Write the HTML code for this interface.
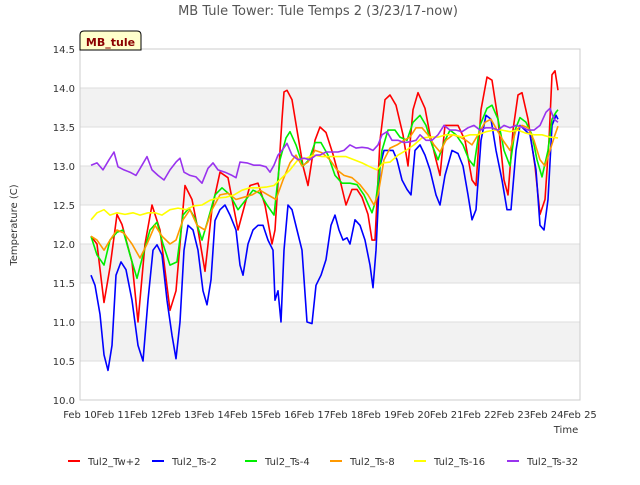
<!DOCTYPE html>
<html><head><meta charset="utf-8"><style>
body{margin:0;background:#fff;font-family:"Liberation Sans","DejaVu Sans",sans-serif}
svg text{font-family:"DejaVu Sans","Liberation Sans",sans-serif}
</style></head><body>
<svg id="chart" width="640" height="480" xmlns="http://www.w3.org/2000/svg">
<rect width="640" height="480" fill="#fff"/>
<text x="318" y="15" font-size="13" fill="#555" text-anchor="middle">MB Tule Tower: Tule Temps 2 (3/23/17-now)</text>
<g id="bands"></g><g id="grid"></g>
<rect x="80" y="49" width="500" height="351" fill="none" stroke="#ccc"/>
<g id="series"></g><g id="ticks"></g>
<text transform="translate(17,225) rotate(-90)" font-size="10" fill="#333" text-anchor="middle">Temperature (C)</text>
<text x="566" y="433" font-size="10" fill="#333" text-anchor="middle">Time</text>
<g>
<path d="M80,50 L80,35 Q80,31 84,31 L137,31 Q141,31 141,35 L141,50 Z" fill="#ffffcc" stroke="#000"/>
<text x="110.5" y="46" font-size="11" font-weight="bold" fill="#8b0000" text-anchor="middle">MB_tule</text></g>
<g id="legend"></g>
</svg>
<script>
const seriesNames=["Tul2_Tw+2","Tul2_Ts-2","Tul2_Ts-4","Tul2_Ts-8","Tul2_Ts-16","Tul2_Ts-32"];
const seriesColors=["#ff0000","#0000ff","#00ee00","#ff9900","#ffff00","#9933ee"];
const xTickLabels=["Feb 10","Feb 11","Feb 12","Feb 13","Feb 14","Feb 15","Feb 16","Feb 17","Feb 18","Feb 19","Feb 20","Feb 21","Feb 22","Feb 23","Feb 24","Feb 25"];
const yTicks=[10.0,10.5,11.0,11.5,12.0,12.5,13.0,13.5,14.0,14.5];
// [days since Feb 10, temperature C]
const tw2=[[.33,12.1],[.51,12.0],[.72,11.25],[.9,11.7],[1.11,12.38],[1.26,12.25],[1.56,11.77],[1.74,11.0],[1.95,12.0],[2.16,12.5],[2.4,12.18],[2.7,11.15],[2.88,11.4],[3.15,12.75],[3.36,12.57],[3.54,12.18],[3.75,11.65],[3.96,12.45],[4.2,12.92],[4.44,12.85],[4.74,12.18],[5.1,12.75],[5.34,12.78],[5.55,12.5],[5.76,12.0],[5.85,12.18],[6.06,13.6],[6.12,13.95],[6.21,13.97],[6.36,13.85],[6.51,13.46],[6.69,13.0],[6.84,12.75],[7.05,13.33],[7.2,13.5],[7.38,13.43],[7.59,13.15],[7.8,12.82],[7.98,12.5],[8.16,12.7],[8.31,12.7],[8.46,12.6],[8.64,12.38],[8.76,12.05],[8.85,12.05],[9.0,13.33],[9.15,13.85],[9.3,13.91],[9.48,13.78],[9.69,13.4],[9.84,13.0],[9.99,13.72],[10.14,13.94],[10.35,13.74],[10.5,13.4],[10.68,13.08],[10.8,12.88],[10.95,13.52],[11.16,13.52],[11.34,13.52],[11.55,13.33],[11.76,12.82],[11.88,12.75],[12.03,13.72],[12.21,14.14],[12.36,14.1],[12.54,13.6],[12.72,12.82],[12.84,12.63],[12.99,13.46],[13.14,13.91],[13.26,13.94],[13.44,13.6],[13.65,13.0],[13.8,12.38],[13.95,12.57],[14.07,13.33],[14.16,14.17],[14.25,14.22],[14.34,13.97]];
const ts2=[[.33,11.6],[.45,11.47],[.6,11.1],[.72,10.58],[.84,10.38],[.96,10.7],[1.08,11.6],[1.23,11.77],[1.38,11.67],[1.56,11.28],[1.74,10.7],[1.89,10.5],[2.04,11.28],[2.19,11.92],[2.31,11.99],[2.46,11.86],[2.61,11.28],[2.76,10.83],[2.88,10.53],[3.0,11.0],[3.12,11.92],[3.24,12.24],[3.39,12.18],[3.54,11.92],[3.69,11.4],[3.81,11.22],[3.93,11.54],[4.05,12.3],[4.2,12.44],[4.35,12.5],[4.5,12.37],[4.68,12.18],[4.8,11.73],[4.89,11.6],[5.04,12.0],[5.19,12.18],[5.34,12.24],[5.49,12.24],[5.64,12.05],[5.79,11.92],[5.85,11.28],[5.94,11.4],[6.03,11.0],[6.12,11.92],[6.24,12.5],[6.36,12.44],[6.51,12.18],[6.66,11.92],[6.81,11.0],[6.96,10.98],[7.08,11.47],[7.23,11.6],[7.38,11.8],[7.53,12.24],[7.65,12.37],[7.77,12.18],[7.89,12.05],[8.01,12.08],[8.1,12.0],[8.25,12.31],[8.4,12.24],[8.55,12.05],[8.7,11.73],[8.79,11.44],[8.88,11.92],[9.0,13.0],[9.12,13.2],[9.24,13.2],[9.39,13.2],[9.51,13.08],[9.66,12.82],[9.81,12.7],[9.93,12.63],[10.05,13.2],[10.2,13.27],[10.35,13.14],[10.5,12.95],[10.68,12.63],[10.8,12.5],[10.95,12.88],[11.16,13.2],[11.34,13.16],[11.49,13.0],[11.64,12.63],[11.76,12.31],[11.88,12.44],[12.03,13.33],[12.18,13.65],[12.33,13.6],[12.48,13.2],[12.66,12.82],[12.81,12.44],[12.93,12.44],[13.08,13.2],[13.2,13.52],[13.35,13.46],[13.5,13.4],[13.68,12.95],[13.8,12.24],[13.92,12.18],[14.04,12.57],[14.16,13.52],[14.28,13.65],[14.34,13.6]];
const ts4=[[.33,12.1],[.51,11.86],[.72,11.73],[.9,12.05],[1.11,12.15],[1.29,12.18],[1.5,11.86],[1.71,11.56],[1.89,11.86],[2.1,12.18],[2.31,12.28],[2.49,12.0],[2.7,11.73],[2.91,11.77],[3.09,12.37],[3.27,12.46],[3.45,12.33],[3.66,12.05],[3.84,12.31],[4.05,12.63],[4.26,12.72],[4.5,12.63],[4.74,12.44],[4.98,12.57],[5.19,12.69],[5.4,12.65],[5.61,12.5],[5.82,12.37],[6.0,13.08],[6.18,13.36],[6.3,13.44],[6.48,13.27],[6.69,13.0],[6.87,13.08],[7.05,13.3],[7.23,13.3],[7.44,13.14],[7.65,12.88],[7.86,12.78],[8.1,12.78],[8.31,12.76],[8.52,12.63],[8.76,12.4],[8.88,12.57],[9.06,13.2],[9.24,13.46],[9.45,13.46],[9.6,13.37],[9.81,13.33],[9.99,13.56],[10.2,13.65],[10.38,13.52],[10.56,13.27],[10.74,13.08],[10.92,13.3],[11.1,13.46],[11.28,13.4],[11.49,13.27],[11.67,13.08],[11.82,13.0],[12.0,13.52],[12.21,13.74],[12.36,13.78],[12.54,13.6],[12.72,13.2],[12.9,13.0],[13.05,13.46],[13.2,13.62],[13.38,13.56],[13.56,13.4],[13.71,13.08],[13.86,12.86],[14.04,13.2],[14.16,13.6],[14.28,13.69],[14.34,13.72]];
const ts8=[[.33,12.1],[.51,12.05],[.72,11.92],[.9,12.05],[1.11,12.18],[1.32,12.14],[1.56,12.0],[1.8,11.82],[2.01,12.0],[2.25,12.24],[2.46,12.1],[2.7,12.0],[2.88,12.05],[3.09,12.31],[3.3,12.44],[3.51,12.24],[3.75,12.18],[3.96,12.44],[4.2,12.63],[4.44,12.65],[4.68,12.57],[4.92,12.6],[5.16,12.63],[5.4,12.69],[5.64,12.63],[5.88,12.57],[6.09,12.82],[6.3,13.04],[6.48,13.14],[6.66,13.0],[6.84,13.05],[7.05,13.2],[7.26,13.17],[7.5,13.08],[7.71,12.95],[7.92,12.88],[8.16,12.85],[8.4,12.76],[8.64,12.63],[8.82,12.5],[8.94,12.63],[9.12,13.08],[9.3,13.23],[9.51,13.27],[9.72,13.33],[9.9,13.37],[10.08,13.49],[10.26,13.49],[10.44,13.4],[10.62,13.27],[10.8,13.18],[10.98,13.33],[11.19,13.4],[11.4,13.37],[11.58,13.33],[11.76,13.27],[11.94,13.4],[12.15,13.56],[12.33,13.6],[12.51,13.46],[12.69,13.33],[12.9,13.2],[13.08,13.46],[13.26,13.52],[13.44,13.49],[13.62,13.33],[13.8,13.08],[13.95,13.0],[14.1,13.2],[14.25,13.4],[14.34,13.51]];
const ts16=[[.33,12.31],[.51,12.4],[.72,12.44],[.9,12.37],[1.11,12.4],[1.35,12.38],[1.59,12.4],[1.8,12.37],[2.04,12.4],[2.25,12.4],[2.46,12.37],[2.7,12.44],[2.94,12.46],[3.18,12.44],[3.42,12.49],[3.66,12.5],[3.9,12.56],[4.14,12.59],[4.38,12.6],[4.62,12.63],[4.86,12.69],[5.1,12.72],[5.34,12.72],[5.58,12.73],[5.82,12.75],[6.06,12.85],[6.3,12.95],[6.54,13.08],[6.78,13.1],[7.02,13.14],[7.26,13.12],[7.5,13.12],[7.74,13.12],[7.98,13.12],[8.22,13.08],[8.46,13.04],[8.7,12.99],[8.91,12.95],[9.09,13.04],[9.3,13.05],[9.54,13.14],[9.78,13.2],[10.02,13.27],[10.26,13.36],[10.5,13.37],[10.74,13.37],[10.98,13.4],[11.22,13.4],[11.46,13.37],[11.7,13.4],[11.94,13.4],[12.18,13.44],[12.42,13.46],[12.66,13.46],[12.9,13.44],[13.14,13.46],[13.38,13.42],[13.62,13.4],[13.86,13.4],[14.1,13.37],[14.34,13.36]];
const ts32=[[.33,13.01],[.51,13.04],[.69,12.95],[.87,13.08],[1.02,13.18],[1.14,12.99],[1.32,12.95],[1.5,12.92],[1.68,12.88],[1.86,13.01],[2.01,13.12],[2.16,12.95],[2.34,12.88],[2.52,12.82],[2.7,12.95],[2.88,13.05],[3.0,13.1],[3.12,12.92],[3.3,12.88],[3.48,12.86],[3.66,12.78],[3.84,12.97],[3.99,13.04],[4.14,12.95],[4.35,12.92],[4.56,12.88],[4.68,12.85],[4.8,13.05],[5.01,13.04],[5.22,13.01],[5.4,13.01],[5.58,12.99],[5.7,12.92],[5.82,13.01],[5.94,13.14],[6.06,13.2],[6.21,13.29],[6.36,13.14],[6.54,13.08],[6.72,13.1],[6.9,13.08],[7.08,13.14],[7.2,13.14],[7.38,13.18],[7.56,13.18],[7.74,13.18],[7.92,13.2],[8.1,13.27],[8.28,13.23],[8.46,13.24],[8.64,13.23],[8.79,13.2],[8.94,13.27],[9.06,13.4],[9.21,13.44],[9.36,13.33],[9.54,13.33],[9.72,13.3],[9.9,13.31],[10.08,13.33],[10.2,13.4],[10.38,13.33],[10.56,13.33],[10.74,13.4],[10.92,13.52],[11.1,13.46],[11.28,13.46],[11.46,13.44],[11.64,13.49],[11.82,13.52],[12.0,13.46],[12.18,13.49],[12.36,13.49],[12.54,13.46],[12.72,13.52],[12.9,13.49],[13.08,13.52],[13.26,13.5],[13.44,13.46],[13.62,13.46],[13.8,13.52],[13.98,13.69],[14.1,13.74],[14.22,13.6],[14.34,13.56]];
const allSeries=[tw2,ts2,ts4,ts8,ts16,ts32];

const NS="http://www.w3.org/2000/svg";
const X0=80,X1=580,Y0=400,Y1=49,TMAX=15,VMIN=10,VMAX=14.5;
function xs(t){return X0+(X1-X0)*t/TMAX;}
function ys(v){return Y0-(Y0-Y1)*(v-VMIN)/(VMAX-VMIN);}
function mk(tag,attrs,parent){const e=document.createElementNS(NS,tag);for(const k in attrs)e.setAttribute(k,attrs[k]);parent.appendChild(e);return e;}
const bands=document.getElementById('bands'),grid=document.getElementById('grid'),ticks=document.getElementById('ticks'),ser=document.getElementById('series'),leg=document.getElementById('legend');
for(let i=0;i<yTicks.length-1;i++){
  if(i%2===1){const b=mk('rect',{x:X0,y:ys(yTicks[i+1]),width:X1-X0,height:ys(yTicks[i])-ys(yTicks[i+1]),fill:'#f2f2f2'},bands);
  
  }
}
yTicks.forEach(v=>{
  const g=mk('line',{x1:X0,x2:X1,y1:ys(v),y2:ys(v),stroke:'#ddd'},grid);
  
  
  const t=mk('text',{x:X0-5,y:ys(v)+4,'font-size':10,fill:'#333','text-anchor':'end'},ticks);
  t.textContent=v.toFixed(1);
  
  
});
xTickLabels.forEach((l,i)=>{
  const t=mk('text',{x:xs(i),y:418,'font-size':10,fill:'#333','text-anchor':'middle'},ticks);
  t.textContent=l;
  
  
});
allSeries.forEach((d,i)=>{
  const p=mk('polyline',{points:d.map(q=>xs(q[0]).toFixed(1)+','+ys(q[1]).toFixed(1)).join(' '),fill:'none',stroke:seriesColors[i],'stroke-width':1.6,'stroke-linejoin':'round'},ser);
  
  
});
const legX=[68,152,245,330,414,507];
seriesNames.forEach((n,i)=>{
  const g=mk('g',{},leg);
  
  
  mk('line',{x1:legX[i],x2:legX[i]+12,y1:461,y2:461,stroke:seriesColors[i],'stroke-width':2},g);
  const t=mk('text',{x:legX[i]+20,y:465,'font-size':10,fill:'#333'},g);
  t.textContent=n;
});
</script>
</body></html>
